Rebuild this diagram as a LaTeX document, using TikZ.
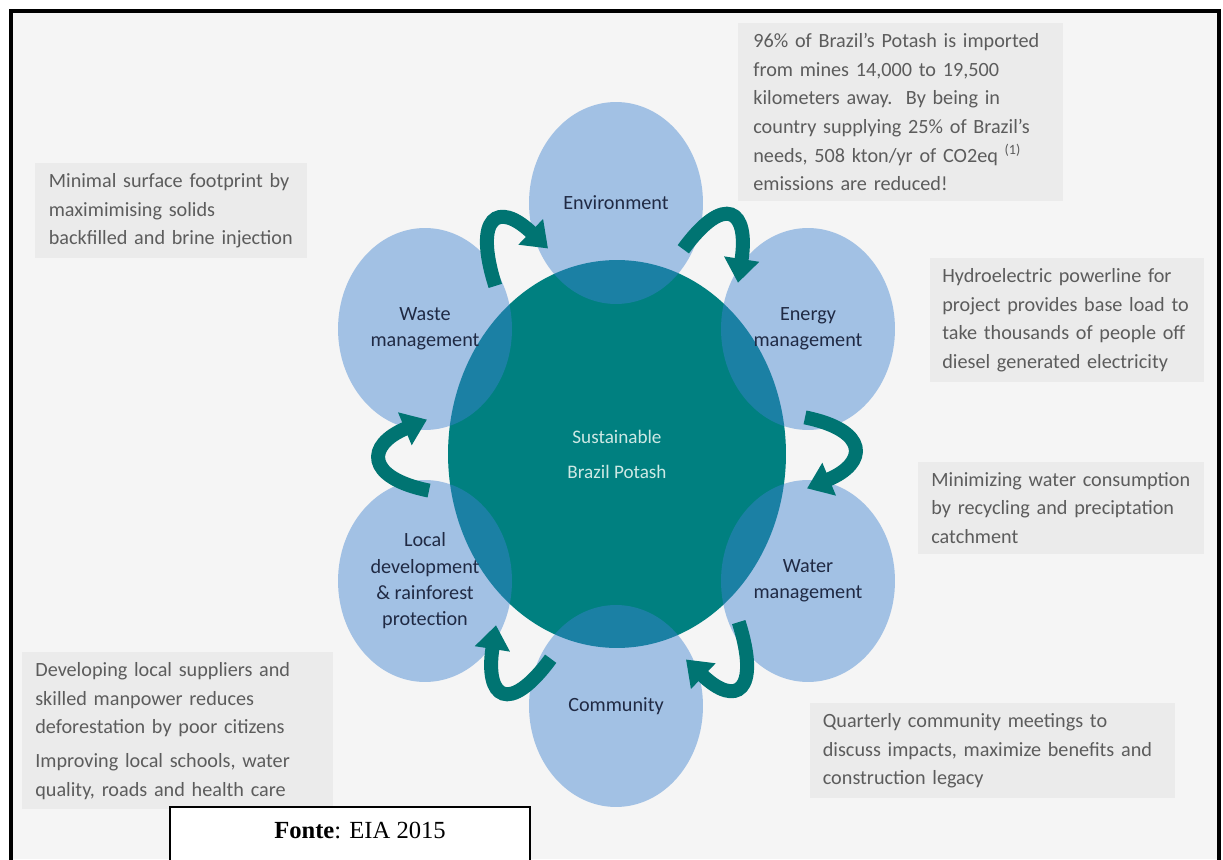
\documentclass[tikz,border=0pt]{standalone}
\usepackage{fontspec}
\setmainfont{Carlito}
\newfontfamily\sourcefont{Liberation Serif}
\usetikzlibrary{shapes.geometric,arrows.meta,calc}

\definecolor{hubteal}{RGB}{0,128,128}
\definecolor{arrowteal}{RGB}{0,116,114}
\definecolor{bubbleblue}{RGB}{62,130,208}
\definecolor{labelnavy}{RGB}{32,42,68}
\definecolor{hubtext}{RGB}{205,232,228}
\definecolor{notegray}{RGB}{92,92,92}
\definecolor{notefill}{RGB}{235,235,235}
\definecolor{pagefill}{RGB}{245,245,245}

\tikzset{
  bubble/.style={ellipse,minimum width=3.48cm,minimum height=4.04cm,inner sep=0pt,
    fill=bubbleblue,fill opacity=0.45,text opacity=1,text=labelnavy,align=center,
    font=\fontsize{11.5}{15}\selectfont},
  hub/.style={ellipse,minimum width=6.76cm,minimum height=7.76cm,inner sep=0pt,
    fill=hubteal,text=hubtext,align=center,font=\fontsize{10.9}{20}\selectfont},
  note/.style={anchor=north west,fill=notefill,text=notegray,align=left,
    inner ysep=0.2cm,font=\fontsize{11.5}{16.3}\selectfont},
  flow/.style={draw=arrowteal,line width=0.28cm,-{Triangle[width=0.68cm,length=0.48cm]}}
}

\begin{document}
\begin{tikzpicture}[x=0.02cm,y=0.02cm]
  \useasboundingbox (0,0) rectangle (1223,859);
  \fill[pagefill] (11,848) rectangle (1219,0);
  \draw[line width=2pt] (11,848) rectangle (1219,-10);

  % callouts
  \node[note,text width=5.9cm,inner xsep=0.3cm] (envnote) at (738,836)
    {96\% of Brazil’s Potash is imported\\from mines 14,000 to 19,500\\kilometers away.\ \ By being in\\country supplying 25\% of Brazil’s\\needs, 508 kton/yr of CO2eq \textsuperscript{(1)}\\emissions are reduced!};
  \node[note,text width=4.9cm,inner xsep=0.27cm] (wastenote) at (35,696)
    {Minimal surface footprint by\\maximimising solids\\backfilled and brine injection};
  \node[note,text width=5.0cm,inner xsep=0.24cm] (energynote) at (930,601)
    {Hydroelectric powerline for\\project provides base load to\\take thousands of people off\\diesel generated electricity};
  \node[note,text width=5.2cm,inner xsep=0.26cm] (waternote) at (918,397)
    {Minimizing water consumption\\by recycling and preciptation\\catchment};
  \node[note,text width=6.8cm,inner xsep=0.25cm] (communitynote) at (810,156)
    {Quarterly community meetings to\\discuss impacts, maximize benefits and\\construction legacy};
  \node[note,text width=5.7cm,inner xsep=0.26cm] (localnote) at (22,207)
    {Developing local suppliers and\\skilled manpower reduces\\deforestation by poor citizens\\[3pt]Improving local schools, water\\quality, roads and health care};

  % centre and the six bubbles
  \node[hub] (hub) at (617,405) {Sustainable\\Brazil Potash};
  \node[bubble] (env) at (616,656) {Environment};
  \node[bubble] (energy) at (808,530) {Energy\\management};
  \node[bubble] (water) at (808,278) {Water\\management};
  \node[bubble] (community) at (616,153) {Community};
  \node[bubble] (local) at (425,278) {Local\\development\\\& rainforest\\protection};
  \node[bubble] (waste) at (425,530) {Waste\\management};

  \foreach \from/\to/\tail/\head/\ctla/\ctlb in {
    waste/env/{70.3,43.1}/{-68,-45.5}/{-22.2,69.9}/{-49.8,47.9},
    env/energy/{67.3,-46.3}/{-70,46.2}/{41.8,57}/{11.3,73.3},
    energy/water/{-3,-88.4}/{-1,92.6}/{64,-12.9}/{61.1,25.4},
    water/community/{-69.3,-41.1}/{70,46.5}/{22.2,-69.9}/{49.8,-47.9},
    community/local/{-65.3,47.3}/{71,-44.2}/{-41.8,-57}/{-11.3,-73.3},
    local/waste/{4,90.4}/{2,-90.6}/{-64,12.9}/{-61.1,-25.4}}
    \draw[flow] ($(\from)+(\tail)$) .. controls +(\ctla) and +(\ctlb) .. ($(\to)+(\head)$);

  % source
  \filldraw[fill=white,draw=black,line width=0.8pt] (170,52) rectangle (530,-10);
  \node[font=\sourcefont\fontsize{14}{16}\selectfont] (source) at (360,29)
    {\textbf{Fonte}: EIA 2015};
\end{tikzpicture}
\end{document}
